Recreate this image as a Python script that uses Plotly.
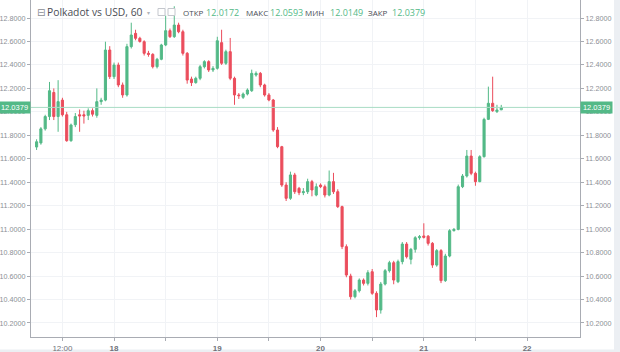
import pandas as pd
import plotly.graph_objects as go

# ---- data (hourly candles, Polkadot vs USD) ----
start_time = "2021-09-17 06:00"
open_ = [11.700, 11.735, 11.855, 11.960, 12.165, 11.960, 12.100, 11.975, 11.754, 11.890,
         11.975, 11.975, 11.970, 12.010, 11.970, 12.087, 12.100, 12.527, 12.300, 12.399,
         12.229, 12.144, 12.556, 12.669, 12.627, 12.598, 12.499, 12.490, 12.385, 12.448,
         12.570, 12.692, 12.641, 12.740, 12.683, 12.499, 12.280, 12.249, 12.286, 12.385,
         12.428, 12.357, 12.371, 12.590, 12.414, 12.513, 12.286, 12.144, 12.124, 12.152,
         12.180, 12.314, 12.328, 12.229, 12.144, 12.101, 11.845, 11.703, 11.376, 11.263,
         11.462, 11.348, 11.311, 11.319, 11.405, 11.291, 11.376, 11.362, 11.291, 11.405,
         11.319, 11.192, 10.851, 10.600, 10.424, 10.475, 10.566, 10.538, 10.637, 10.453,
         10.311, 10.532, 10.646, 10.714, 10.552, 10.723, 10.873, 10.743, 10.828, 10.927,
         10.942, 10.940, 10.879, 10.694, 10.817, 10.561, 10.771, 10.987, 10.998, 11.362,
         11.453, 11.623, 11.476, 11.405, 11.618, 11.936, 12.073, 12.002, 12.0172]
high_ = [11.766, 11.870, 11.975, 12.255, 12.200, 12.270, 12.120, 12.000, 11.900, 11.990,
         12.020, 12.010, 12.030, 12.030, 12.200, 12.120, 12.598, 12.560, 12.420, 12.420,
         12.250, 12.580, 12.760, 12.700, 12.640, 12.610, 12.520, 12.500, 12.460, 12.580,
         12.820, 12.710, 12.900, 12.760, 12.700, 12.510, 12.300, 12.300, 12.400, 12.440,
         12.440, 12.390, 12.640, 12.700, 12.530, 12.630, 12.300, 12.160, 12.165, 12.200,
         12.360, 12.345, 12.340, 12.240, 12.160, 12.110, 11.870, 11.710, 11.400, 11.490,
         11.480, 11.360, 11.350, 11.430, 11.420, 11.390, 11.390, 11.380, 11.500, 11.480,
         11.340, 11.200, 10.870, 10.620, 10.490, 10.580, 10.580, 10.650, 10.660, 10.470,
         10.550, 10.660, 10.730, 10.730, 10.740, 10.890, 10.890, 10.840, 10.940, 10.950,
         11.050, 10.950, 10.890, 10.830, 10.830, 10.790, 11.000, 11.010, 11.380, 11.470,
         11.675, 11.675, 11.490, 11.630, 11.950, 12.215, 12.300, 12.060, 12.0593]
low_ = [11.675, 11.720, 11.840, 11.930, 11.930, 11.830, 11.960, 11.745, 11.745, 11.870,
        11.830, 11.900, 11.930, 11.960, 11.950, 12.060, 12.090, 12.280, 12.280, 12.210,
        12.120, 12.130, 12.540, 12.610, 12.590, 12.480, 12.470, 12.370, 12.370, 12.440,
        12.560, 12.630, 12.630, 12.670, 12.480, 12.240, 12.220, 12.240, 12.270, 12.370,
        12.340, 12.340, 12.360, 12.400, 12.400, 12.270, 12.060, 12.110, 12.110, 12.140,
        12.170, 12.300, 12.210, 12.130, 12.090, 11.830, 11.690, 11.360, 11.240, 11.250,
        11.300, 11.290, 11.290, 11.300, 11.280, 11.280, 11.350, 11.270, 11.280, 11.300,
        11.180, 10.830, 10.590, 10.400, 10.410, 10.460, 10.520, 10.520, 10.440, 10.250,
        10.280, 10.520, 10.630, 10.530, 10.540, 10.700, 10.750, 10.700, 10.800, 10.910,
        10.920, 10.860, 10.670, 10.680, 10.540, 10.550, 10.760, 10.980, 10.990, 11.350,
        11.440, 11.460, 11.370, 11.400, 11.610, 11.930, 12.000, 11.990, 12.0149]
close_ = [11.745, 11.855, 11.960, 12.180, 11.960, 12.087, 11.975, 11.754, 11.888, 11.960,
          11.965, 11.965, 12.010, 11.980, 12.087, 12.100, 12.527, 12.300, 12.399, 12.229,
          12.144, 12.556, 12.655, 12.627, 12.600, 12.499, 12.490, 12.385, 12.448, 12.570,
          12.692, 12.641, 12.740, 12.683, 12.499, 12.271, 12.249, 12.286, 12.385, 12.428,
          12.357, 12.371, 12.606, 12.414, 12.513, 12.286, 12.144, 12.138, 12.152, 12.186,
          12.328, 12.328, 12.229, 12.144, 12.101, 11.845, 11.703, 11.376, 11.263, 11.462,
          11.319, 11.311, 11.319, 11.405, 11.334, 11.362, 11.362, 11.291, 11.405, 11.319,
          11.192, 10.851, 10.609, 10.424, 10.475, 10.566, 10.538, 10.629, 10.453, 10.311,
          10.532, 10.646, 10.714, 10.566, 10.723, 10.873, 10.765, 10.828, 10.927, 10.936,
          10.930, 10.879, 10.694, 10.817, 10.561, 10.771, 10.987, 10.998, 11.362, 11.453,
          11.623, 11.476, 11.405, 11.618, 11.936, 12.073, 12.010, 12.016, 12.0379]

price_ticks = [10.2, 10.4, 10.6, 10.8, 11.0, 11.2, 11.4, 11.6, 11.8, 12.0, 12.2, 12.4, 12.6, 12.8]
time_ticks = ["2021-09-17 12:00", "2021-09-18 00:00", "2021-09-18 12:00", "2021-09-19 00:00",
              "2021-09-19 12:00", "2021-09-20 00:00", "2021-09-20 12:00", "2021-09-21 00:00",
              "2021-09-21 12:00", "2021-09-22 00:00"]
time_labels = ["12:00", "<b>18</b>", "", "<b>19</b>", "", "<b>20</b>", "", "<b>21</b>", "", "<b>22</b>"]
last_price = 12.0379
header_labels = ["ОТКР", "МАКС", "МИН", "ЗАКР"]
header_values = ["12.0172", "12.0593", "12.0149", "12.0379"]

# ---- styles ----
UP = "#53b987"
DOWN = "#eb4d5c"
GRID = "#f1f3f6"
AXIS = "#a9acb3"
TICKFONT = dict(family="Liberation Sans, Arial, sans-serif", size=7.2, color="#8c8f96")

times = pd.date_range(start_time, periods=len(open_), freq="60min")

# layout geometry (pixels)
W, H = 620, 352
L, R, T, B = 31, 40, 0, 15
pw, ph = W - L - R, H - T - B


def px(x):
    return (x - L) / pw


def py(y):
    return (H - B - y) / ph


fig = go.Figure()
fig.add_trace(go.Candlestick(
    x=times, open=open_, high=high_, low=low_, close=close_,
    increasing=dict(line=dict(color=UP, width=1), fillcolor=UP),
    decreasing=dict(line=dict(color=DOWN, width=1), fillcolor=DOWN),
    whiskerwidth=0, hoverinfo="skip", showlegend=False, yaxis="y"))
fig.add_trace(go.Scatter(x=[times[0]], y=[last_price], yaxis="y2", mode="markers",
                         marker=dict(opacity=0), hoverinfo="skip", showlegend=False))

yr = [10.0806, 12.9535]
yfmt = [f"{v:.4f}" for v in price_ticks]

fig.update_layout(
    width=W, height=H,
    margin=dict(l=L, r=R, t=T, b=B, autoexpand=False),
    paper_bgcolor="white", plot_bgcolor="white",
    xaxis=dict(type="date", range=["2021-09-17 04:42", "2021-09-22 12:18"],
               rangeslider=dict(visible=False), automargin=False,
               tickvals=time_ticks, ticktext=time_labels,
               ticks="outside", ticklen=3, tickcolor=AXIS,
               showgrid=True, gridcolor=GRID, gridwidth=1,
               showline=True, linecolor=AXIS, linewidth=1,
               tickfont=dict(family="Liberation Sans, Arial, sans-serif", size=8, color="#6f727a"),
               zeroline=False, fixedrange=True),
    yaxis=dict(side="right", range=yr, tickvals=price_ticks, ticktext=yfmt, automargin=False,
               ticks="outside", ticklen=3, tickcolor=AXIS,
               showgrid=True, gridcolor=GRID, gridwidth=1,
               showline=True, linecolor=AXIS, linewidth=1,
               tickfont=TICKFONT, zeroline=False),
    yaxis2=dict(side="left", overlaying="y", range=yr, tickvals=price_ticks, ticktext=yfmt,
                automargin=False, ticks="outside", ticklen=3, tickcolor=AXIS,
                showgrid=False, showline=True, linecolor=AXIS, linewidth=1,
                tickfont=TICKFONT, zeroline=False),
)

# last price line
fig.add_shape(type="line", xref="paper", yref="y", x0=0, x1=1, y0=last_price, y1=last_price,
              line=dict(color="#a8dcc4", width=1))

# gray page strips (right edge and bottom edge)
fig.add_shape(type="rect", xref="paper", yref="paper", x0=px(614), x1=px(621), y0=py(353), y1=py(-1),
              fillcolor="#eceff3", line=dict(width=0), layer="below")
fig.add_shape(type="rect", xref="paper", yref="paper", x0=px(-1), x1=px(621), y0=py(353), y1=py(349.5),
              fillcolor="#eceff3", line=dict(width=0), layer="below")

# price label boxes
for xpos, anchor in [(px(580), "left"), (px(31), "right")]:
    fig.add_annotation(xref="paper", yref="y", x=xpos, y=last_price, xanchor=anchor, yanchor="middle",
                       text=f"{last_price:.4f}", showarrow=False, bgcolor=UP, borderpad=1,
                       font=dict(family="Liberation Sans, Arial, sans-serif", size=7.5, color="white"),
                       width=29, align="center")

# header
HFONT = "Open Sans, sans-serif"
fig.add_annotation(xref="paper", yref="paper", x=px(35), y=py(12), xanchor="left", yanchor="middle",
                   text="⊟", showarrow=False,
                   font=dict(family="DejaVu Sans", size=10, color="#8a8d94"))
fig.add_annotation(xref="paper", yref="paper", x=px(45), y=py(12), xanchor="left", yanchor="middle",
                   text="Polkadot vs USD, 60", showarrow=False,
                   font=dict(family=HFONT, size=10.3, color="#4a4d55"))
fig.add_annotation(xref="paper", yref="paper", x=px(145), y=py(12), xanchor="left", yanchor="middle",
                   text="▾", showarrow=False,
                   font=dict(family="DejaVu Sans", size=6, color="#b0b3ba"))
for x0 in (158, 168):
    fig.add_shape(type="rect", xref="paper", yref="paper", x0=px(x0), x1=px(x0 + 7),
                  y0=py(15.5), y1=py(8.5), line=dict(color="#c4c7cd", width=1), fillcolor="white")

label_x = [181, 244, 303, 366]
value_x = [204, 268, 328, 390]
for lx, vx, lab, val in zip(label_x, value_x, header_labels, header_values):
    fig.add_annotation(xref="paper", yref="paper", x=px(lx), y=py(12), xanchor="left", yanchor="middle",
                       text=lab, showarrow=False,
                       font=dict(family=HFONT, size=8, color="#4a4d55"))
    fig.add_annotation(xref="paper", yref="paper", x=px(vx), y=py(12), xanchor="left", yanchor="middle",
                       text=val, showarrow=False,
                       font=dict(family=HFONT, size=9, color=UP))

fig.write_html("out.html")
